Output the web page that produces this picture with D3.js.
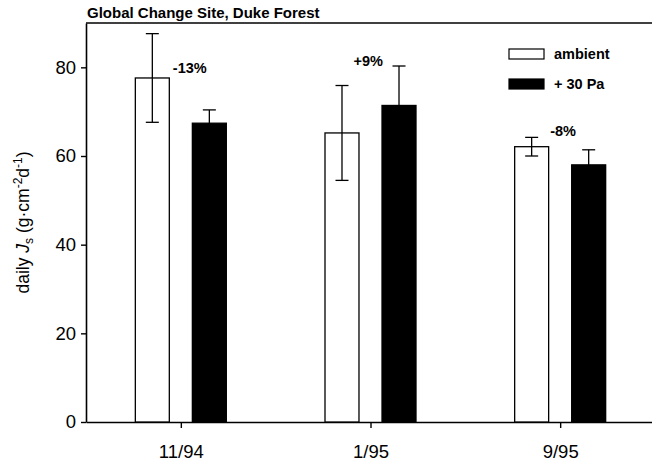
<!DOCTYPE html>
<html>
<head>
<meta charset="utf-8">
<script src="https://cdn.jsdelivr.net/npm/d3@7"></script>
<style>
  body { margin: 0; background: #fff; }
  text { font-family: "Liberation Sans", Arial, sans-serif; fill: #000; }
</style>
</head>
<body>
<div id="chart"></div>
<script>
const periods = ["11/94", "1/95", "9/95"];
const series = ["ambient", "+ 30 Pa"];
const ambient = [77.6, 65.2, 62.1];
const ambientErr = [10.0, 10.7, 2.1];
const elevated = [67.4, 71.4, 58.0];
const elevatedErr = [3.0, 8.9, 3.4];
const changeLabels = ["-13%", "+9%", "-8%"];
const yTicks = [0, 20, 40, 60, 80];

const W = 652, H = 461;
const margin = { top: 23, right: -3, bottom: 39, left: 86 };
const width = W - margin.left - margin.right,
      height = H - margin.top - margin.bottom;

const svg = d3.select("#chart").append("svg")
  .attr("width", W).attr("height", H);

const g = svg.append("g")
  .attr("transform", `translate(${margin.left},${margin.top})`);

const x = d3.scalePoint().domain(periods).range([0, width]).padding(0.5);
const xSub = d3.scaleBand().domain(series).range([-45.5, 45.5]).paddingInner(0.404);
const y = d3.scaleLinear().domain([0, 90]).range([height, 0]);

// frame: top line + right ticks
g.append("line")
  .attr("x1", 0).attr("x2", width).attr("y1", 0).attr("y2", 0)
  .attr("stroke", "#000").attr("stroke-width", 1.4);

const styleAxis = sel => {
  sel.select(".domain").attr("stroke-width", 1.6);
  sel.selectAll(".tick line").attr("stroke-width", 1.4);
  sel.selectAll(".tick text")
    .style("font-family", "'Liberation Sans', Arial, sans-serif")
    .style("font-size", "18.5px");
};

g.append("g")
  .call(d3.axisLeft(y).tickValues(yTicks).tickSize(5).tickPadding(5).tickSizeOuter(0))
  .call(styleAxis);

g.append("g")
  .attr("transform", `translate(${width},0)`)
  .call(d3.axisLeft(y).tickValues(yTicks.slice(1)).tickSize(-7).tickFormat("").tickSizeOuter(0))
  .call(sel => sel.select(".domain").remove())
  .call(styleAxis);

g.append("g")
  .attr("transform", `translate(0,${height})`)
  .call(d3.axisBottom(x).tickSize(6).tickPadding(17).tickSizeOuter(0))
  .call(styleAxis);

// bars
const rows = periods.map((p, i) => ({
  p, i,
  bars: [
    { s: series[0], v: ambient[i], e: ambientErr[i] },
    { s: series[1], v: elevated[i], e: elevatedErr[i] }
  ]
}));

const grp = g.selectAll(".grp").data(rows).enter().append("g")
  .attr("transform", d => `translate(${x(d.p)},0)`);

grp.selectAll("rect").data(d => d.bars).enter().append("rect")
  .attr("x", d => xSub(d.s))
  .attr("y", d => y(d.v))
  .attr("width", xSub.bandwidth())
  .attr("height", d => y(0) - y(d.v))
  .attr("fill", (d, i) => i === 0 ? "#fff" : "#000")
  .attr("stroke", "#000")
  .attr("stroke-width", 1.3);

const err = grp.selectAll(".err").data(d => d.bars).enter().append("g")
  .attr("transform", d => `translate(${xSub(d.s) + xSub.bandwidth() / 2},0)`);
err.append("line")
  .attr("y1", d => y(d.v - d.e)).attr("y2", d => y(d.v + d.e))
  .attr("stroke", "#000").attr("stroke-width", 1.3);
err.append("line")
  .attr("x1", -6.5).attr("x2", 6.5)
  .attr("y1", d => y(d.v + d.e)).attr("y2", d => y(d.v + d.e))
  .attr("stroke", "#000").attr("stroke-width", 1.3);
err.append("line")
  .attr("x1", -6.5).attr("x2", 6.5)
  .attr("y1", d => y(d.v - d.e)).attr("y2", d => y(d.v - d.e))
  .attr("stroke", "#000").attr("stroke-width", 1.3);

// percent change labels
const labelPlace = [{ dx: -8, v: 78.8 }, { dx: -17, v: 80.4 }, { dx: -10, v: 64.4 }];
g.selectAll(".chg").data(changeLabels).enter().append("text")
  .attr("x", (d, i) => x(periods[i]) + labelPlace[i].dx)
  .attr("y", (d, i) => y(labelPlace[i].v))
  .style("font-size", "14.5px").style("font-weight", "bold")
  .text(d => d);

// legend
const legend = svg.append("g").attr("transform", "translate(509,49)");
const li = legend.selectAll("g").data(series).enter().append("g")
  .attr("transform", (d, i) => `translate(0,${i * 30})`);
li.append("rect")
  .attr("width", 35).attr("height", 10)
  .attr("fill", (d, i) => i === 0 ? "#fff" : "#000")
  .attr("stroke", "#000").attr("stroke-width", 1.2);
li.append("text")
  .attr("x", 45).attr("y", 9.5)
  .style("font-size", "14.5px").style("font-weight", "bold")
  .text(d => d);

// title
svg.append("text")
  .attr("x", 87).attr("y", 18)
  .style("font-size", "15px").style("font-weight", "bold")
  .text("Global Change Site, Duke Forest");

// y-axis title
const yt = svg.append("text")
  .attr("transform", `translate(29,${margin.top + height / 2}) rotate(-90)`)
  .attr("text-anchor", "middle")
  .style("font-size", "17.5px");
yt.append("tspan").text("daily ");
yt.append("tspan").style("font-style", "italic").text("J");
yt.append("tspan").attr("dy", 4).style("font-size", "12px").text("s");
yt.append("tspan").attr("dy", -4).text(" (g\u00b7cm");
yt.append("tspan").attr("dy", -7).style("font-size", "12px").text("-2");
yt.append("tspan").attr("dy", 7).text("d");
yt.append("tspan").attr("dy", -7).style("font-size", "12px").text("-1");
yt.append("tspan").attr("dy", 7).text(")");
</script>
</body>
</html>
